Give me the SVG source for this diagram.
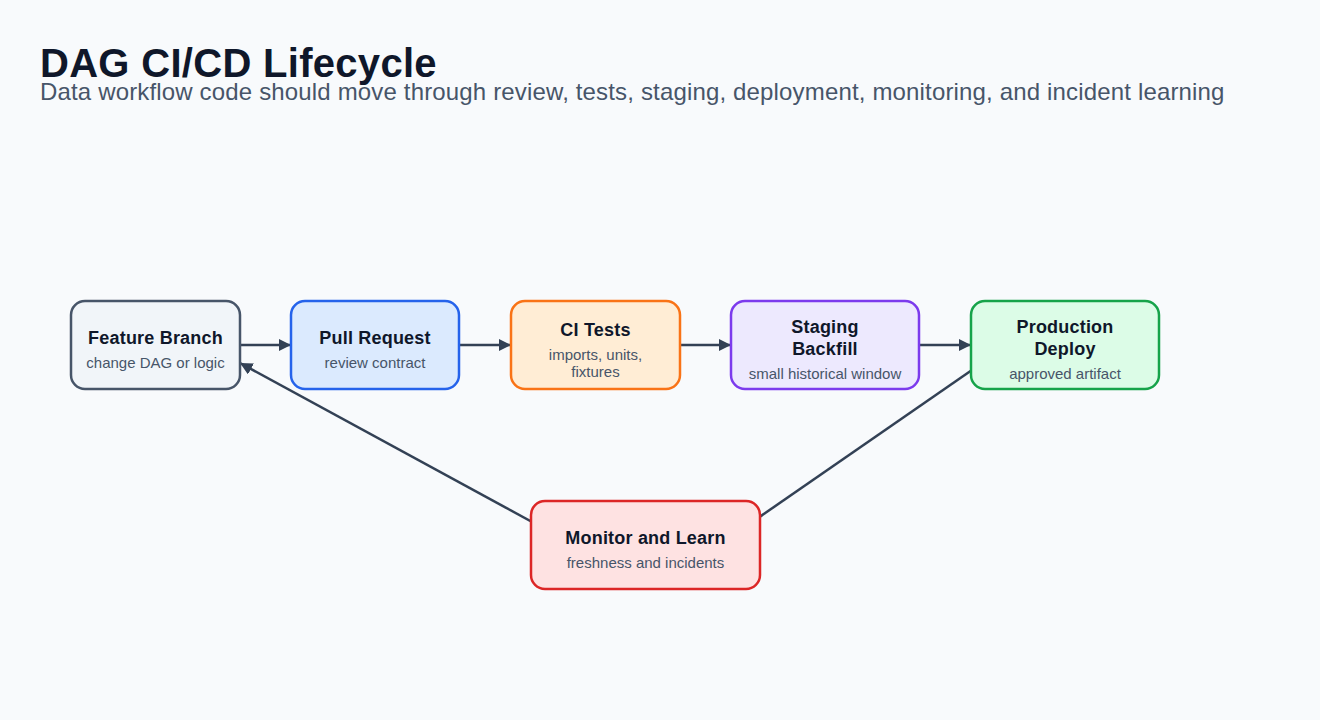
<svg xmlns="http://www.w3.org/2000/svg" width="1320" height="720" viewBox="0 0 1320 720">
<style>
.title{font-family:"Liberation Sans",Arial,sans-serif;font-size:40px;font-weight:700;fill:#0f172a;letter-spacing:0.3px}
.subtitle{font-family:"Liberation Sans",Arial,sans-serif;font-size:24px;fill:#475569;letter-spacing:0.16px}
.nt{font-family:"Liberation Sans",Arial,sans-serif;font-size:18px;font-weight:700;fill:#0f172a;text-anchor:middle;letter-spacing:0.2px}
.ns{font-family:"Liberation Sans",Arial,sans-serif;font-size:15px;fill:#475569;text-anchor:middle}
.box{stroke-width:2.5}
.edge{stroke:#334155;stroke-width:2.5;fill:none}
</style>
<defs>
<marker id="arrow" viewBox="0 0 10 10" refX="10" refY="5" markerWidth="5" markerHeight="5" orient="auto" markerUnits="strokeWidth">
<path d="M0,0 L10,5 L0,10 z" fill="#334155"/>
</marker>
</defs>
<rect width="1320" height="720" fill="#f8fafc"/>
<text class="title" x="40" y="77">DAG CI/CD Lifecycle</text>
<text class="subtitle" x="40" y="100">Data workflow code should move through review, tests, staging, deployment, monitoring, and incident learning</text>
<g id="connectors">
<line class="edge" x1="240" y1="345" x2="291" y2="345" marker-end="url(#arrow)"/>
<line class="edge" x1="459" y1="345" x2="511" y2="345" marker-end="url(#arrow)"/>
<line class="edge" x1="680" y1="345" x2="731" y2="345" marker-end="url(#arrow)"/>
<line class="edge" x1="919" y1="345" x2="971" y2="345" marker-end="url(#arrow)"/>
<line class="edge" x1="985" y1="361" x2="745" y2="527" marker-end="url(#arrow)"/>
<line class="edge" x1="545" y1="529" x2="240" y2="363" marker-end="url(#arrow)"/>
</g>
<g id="feature-branch">
<rect class="box" x="71" y="301" width="169" height="88" rx="14" fill="#f1f5f9" stroke="#475569"/>
<text class="nt" x="155.5" y="344">Feature Branch</text>
<text class="ns" x="155.5" y="368">change DAG or logic</text>
</g>
<g id="pull-request">
<rect class="box" x="291" y="301" width="168" height="88" rx="14" fill="#dbeafe" stroke="#2563eb"/>
<text class="nt" x="375" y="344">Pull Request</text>
<text class="ns" x="375" y="368">review contract</text>
</g>
<g id="ci-tests">
<rect class="box" x="511" y="301" width="169" height="88" rx="14" fill="#ffedd5" stroke="#f97316"/>
<text class="nt" x="595.5" y="336">CI Tests</text>
<text class="ns" x="595.5" y="360">imports, units,</text>
<text class="ns" x="595.5" y="377">fixtures</text>
</g>
<g id="staging-backfill">
<rect class="box" x="731" y="301" width="188" height="88" rx="14" fill="#ede9fe" stroke="#7c3aed"/>
<text class="nt" x="825" y="333">Staging</text>
<text class="nt" x="825" y="355">Backfill</text>
<text class="ns" x="825" y="379">small historical window</text>
</g>
<g id="production-deploy">
<rect class="box" x="971" y="301" width="188" height="88" rx="14" fill="#dcfce7" stroke="#16a34a"/>
<text class="nt" x="1065" y="333">Production</text>
<text class="nt" x="1065" y="355">Deploy</text>
<text class="ns" x="1065" y="379">approved artifact</text>
</g>
<g id="monitor-and-learn">
<rect class="box" x="531" y="501" width="229" height="88" rx="14" fill="#fee2e2" stroke="#dc2626"/>
<text class="nt" x="645.5" y="544">Monitor and Learn</text>
<text class="ns" x="645.5" y="568">freshness and incidents</text>
</g>
</svg>
